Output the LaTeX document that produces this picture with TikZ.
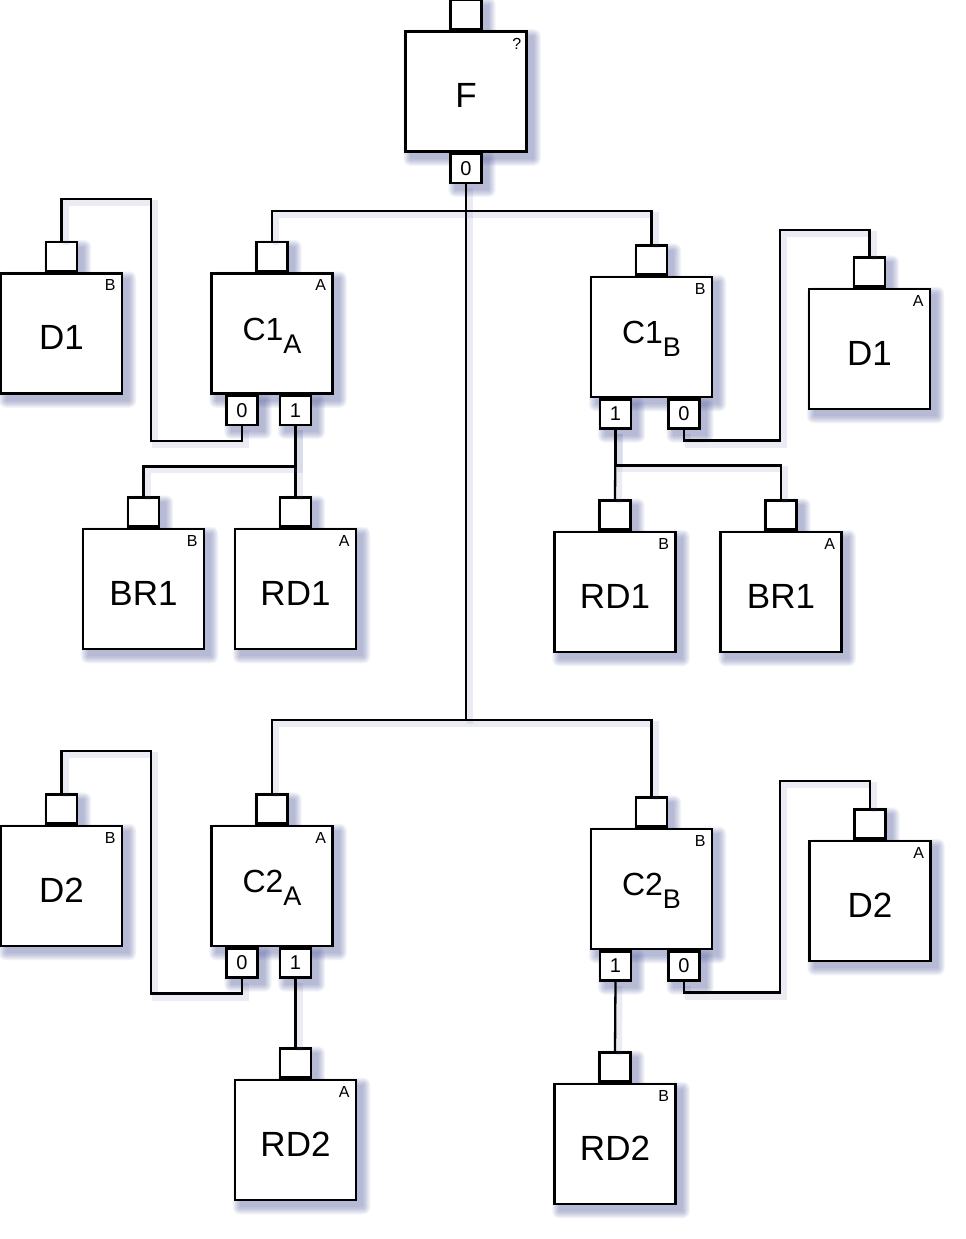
\documentclass[tikz,border=0pt]{standalone}
\usepackage{fontspec}
\setmainfont{Liberation Sans}
\usetikzlibrary{positioning,backgrounds}
\definecolor{haze}{RGB}{90, 100, 160}
\tikzset{block/.style={draw,line width=2.5pt,fill=white,minimum width=121pt,minimum height=120pt,inner sep=0pt,font=\fontsize{35}{38}\selectfont}}
\tikzset{port/.style={draw,line width=2.3pt,fill=white,minimum width=31pt,minimum height=29pt,inner sep=0pt,font=\fontsize{20}{22}\selectfont}}
\tikzset{corner/.style={inner sep=0pt,font=\fontsize{16}{18}\selectfont}}
\tikzset{wire/.style={line width=2.3pt,preaction={draw=haze,draw opacity=0.12,line width=6pt,transform canvas={xshift=4pt,yshift=-4pt}}}}
\newcommand{\sublabel}[2]{\fontsize{32}{34}\selectfont #1\raisebox{-13pt}{\fontsize{27}{30}\selectfont #2}}

\begin{document}
\begin{tikzpicture}[x=1pt,y=-1pt]

	\useasboundingbox (0,0) rectangle (966,1239);
	\coordinate (j1) at (466,211);
	\coordinate (j2) at (466,720);

	% boxes
	\node[block] (f) at (466,91.5) {};
	\node[block] (d1a) at (61.5,333.5) {};
	\node[block] (c1a) at (272,333.5) {};
	\node[block] (c1b) at (651.5,337) {};
	\node[block] (d1b) at (869.5,349) {};
	\node[block] (br1a) at (143.5,589) {};
	\node[block] (rd1a) at (295.5,589) {};
	\node[block] (rd1b) at (615,592) {};
	\node[block] (br1b) at (781,592) {};
	\node[block] (d2a) at (61.5,886) {};
	\node[block] (c2a) at (272,886) {};
	\node[block] (c2b) at (651.5,889) {};
	\node[block] (d2b) at (870,901) {};
	\node[block] (rd2a) at (295.5,1140) {};
	\node[block] (rd2b) at (615,1144) {};

	% names, a little below the middle
	\foreach \b/\t in {f/F,d1a/D1,d1b/D1,br1a/BR1,rd1a/RD1,rd1b/RD1,br1b/BR1,d2a/D2,d2b/D2,rd2a/RD2,rd2b/RD2}
		\node[font=\fontsize{35}{38}\selectfont] at ([yshift=-4pt]\b) {\t};
	\foreach \b/\t/\s in {c1a/C1/A,c1b/C1/B,c2a/C2/A,c2b/C2/B}
		\node at ([yshift=-2pt]\b) {\sublabel{\t}{\s}};

	% corner marks
	\node[corner] at ([xshift=-11pt,yshift=-14pt]f.north east) {?};
	\foreach \b/\m in {d1a/B,c1a/A,c1b/B,d1b/A,br1a/B,rd1a/A,rd1b/B,br1b/A,d2a/B,c2a/A,c2b/B,d2b/A,rd2a/A,rd2b/B}
		\node[corner] at ([xshift=-13pt,yshift=-13pt]\b.north east) {\m};

	% input ports
	\foreach \b in {f,d1a,c1a,c1b,d1b,br1a,rd1a,rd1b,br1b,d2a,c2a,c2b,d2b,rd2a,rd2b}
		\node[port,above=0pt of \b] (\b In) {};

	% output ports
	\node[port,anchor=north] (f0) at (f.south) {0};
	\node[port,anchor=north] (c1a0) at ([xshift=-30pt]c1a.south) {0};
	\node[port,anchor=north] (c1a1) at ([xshift=23.5pt]c1a.south) {1};
	\node[port,anchor=north] (c1b1) at ([xshift=-36pt]c1b.south) {1};
	\node[port,anchor=north] (c1b0) at ([xshift=32.5pt]c1b.south) {0};
	\node[port,anchor=north] (c2a0) at ([xshift=-30pt]c2a.south) {0};
	\node[port,anchor=north] (c2a1) at ([xshift=23.5pt]c2a.south) {1};
	\node[port,anchor=north] (c2b1) at ([xshift=-36pt]c2b.south) {1};
	\node[port,anchor=north] (c2b0) at ([xshift=32.5pt]c2b.south) {0};

	% soft shadows behind everything
	\begin{scope}[on background layer]
		\foreach \b in {f,d1a,c1a,c1b,d1b,br1a,rd1a,rd1b,br1b,d2a,c2a,c2b,d2b,rd2a,rd2b,
			fIn,d1aIn,c1aIn,c1bIn,d1bIn,br1aIn,rd1aIn,rd1bIn,br1bIn,d2aIn,c2aIn,c2bIn,d2bIn,rd2aIn,rd2bIn,
			f0,c1a0,c1a1,c1b1,c1b0,c2a0,c2a1,c2b1,c2b0}
			\foreach \k in {0,...,7}
				\fill[haze,opacity=0.07,rounded corners=\k pt]
					([xshift=6pt-\k pt,yshift=-6pt-\k pt]\b.south west) rectangle
					([xshift=6pt+\k pt,yshift=-6pt+\k pt]\b.north east);
	\end{scope}

	% connections
	\draw[wire] (f0.south) -- (j2);
	\draw[wire] (c1aIn.north) |- (j1) -| (c1bIn.north);
	\draw[wire] (c2aIn.north) |- (j2) -| (c2bIn.north);
	\draw[wire] (c1a0.south) -- ++(0,15) -| (151,199) -| (d1aIn.north);
	\draw[wire] (c1b0.south) -- ++(0,11) -| (780,230) -| (d1bIn.north);
	\draw[wire] (c2a0.south) -- ++(0,15) -| (151,751) -| (d2aIn.north);
	\draw[wire] (c2b0.south) -- ++(0,11) -| (780,781) -| (d2bIn.north);
	\draw[wire] (c1a1.south) -- (rd1aIn.north);
	\draw[wire] (br1aIn.north) |- ++(0,-30) -| (c1a1.south);
	\draw[wire] (c1b1.south) -- (rd1bIn.north);
	\draw[wire] (br1bIn.north) |- ++(0,-34) -| (c1b1.south);
	\draw[wire] (c2a1.south) -- (rd2aIn.north);
	\draw[wire] (c2b1.south) -- (rd2bIn.north);
\end{tikzpicture}
\end{document}
